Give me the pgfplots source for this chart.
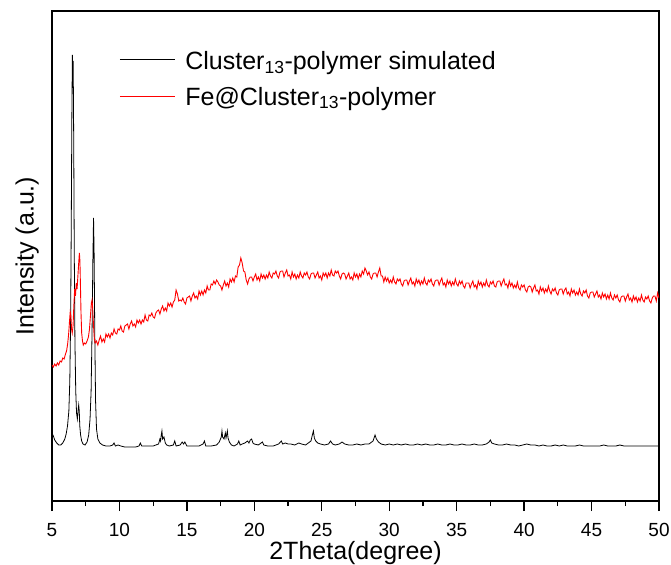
\documentclass[border=0pt]{standalone}
\usepackage{pgfplots}
\pgfplotsset{compat=1.18}
\usepackage{fontspec}
\setmainfont{Liberation Sans}
\begin{document}
\begin{tikzpicture}
\begin{axis}[
  name=ax,
  scale only axis,
  width=607pt, height=490pt,
  xmin=5, xmax=50, ymin=0, ymax=490,
  xtick={5,10,...,50},
  minor x tick num=1,
  ytick=\empty,
  xtick pos=bottom,
  tick align=outside,
  major tick length=10pt,
  minor tick length=5pt,
  every tick/.style={black, line width=1.3pt},
  axis line style={line width=1.6pt},
  /pgf/number format/assume math mode=true,
  xticklabel style={font=\fontsize{19}{22}\selectfont, inner sep=0pt, anchor=north, yshift=-12.5pt},
  xlabel={2Theta(degree)},
  ylabel={Intensity (a.u.)},
  xlabel style={font=\fontsize{25}{29}\selectfont, at={(axis description cs:0.5,-0.0826)}, anchor=north, inner sep=0pt},
  ylabel style={font=\fontsize{25}{29}\selectfont, at={(axis description cs:-0.0214,0.5)}, anchor=south, inner sep=0pt},
  legend style={draw=none, fill=none, at={(axis description cs:0.1133,0.922)}, anchor=north west,
    font=\fontsize{25}{29}\selectfont, row sep=12pt, inner sep=0pt},
  legend cell align=left,
]
\addlegendimage{legend image code/.code={\path (0pt,0pt) (62pt,0pt);}}
\addlegendentry{Cluster\textsubscript{13}-polymer simulated}
\addlegendimage{legend image code/.code={\path (0pt,0pt) (62pt,0pt);}}
\addlegendentry{Fe@Cluster\textsubscript{13}-polymer}
\addplot[forget plot, color=black, line width=0.8pt] coordinates {
(5.0,68) (5.1,65) (5.2,61) (5.35,58) (5.5,56) (5.65,56) (5.8,58) (5.95,62) (6.05,67) (6.15,75)
(6.25,90) (6.32,120) (6.38,180) (6.43,280) (6.47,380) (6.51,446) (6.54,420) (6.57,440) (6.61,360)
(6.65,250) (6.7,160) (6.76,110) (6.82,88) (6.88,82) (6.93,90) (6.98,96) (7.02,90) (7.06,75) (7.12,66)
(7.2,60) (7.3,57) (7.45,56) (7.6,59) (7.72,66) (7.82,82) (7.9,110) (7.97,170) (8.03,240) (8.08,283)
(8.12,250) (8.17,170) (8.23,100) (8.3,72) (8.4,62) (8.55,58) (8.75,56) (9.0,55) (9.3,55) (9.5,56)
(9.6,58) (9.7,55) (9.9,56) (10.1,55) (10.4,54) (10.8,54) (11.2,54) (11.45,55) (11.55,58) (11.65,55)
(12.0,55) (12.5,55) (12.9,57) (13.0,62) (13.05,60) (13.1,66) (13.15,70) (13.2,62) (13.3,64) (13.4,58)
(13.5,56) (13.7,55) (14.0,56) (14.1,60) (14.2,55) (14.5,56) (14.65,59) (14.75,57) (14.85,59) (15.0,55)
(15.3,55) (15.6,55) (15.9,55) (16.2,57) (16.3,60) (16.4,55) (16.8,55) (17.2,56) (17.4,59) (17.55,64)
(17.6,70) (17.65,64) (17.75,62) (17.85,68) (17.9,63) (18.0,70) (18.05,63) (18.15,59) (18.3,56) (18.5,55)
(18.75,57) (18.85,60) (18.95,56) (19.1,57) (19.3,58) (19.5,60) (19.6,58) (19.7,61) (19.8,62) (19.9,58)
(20.0,57) (20.3,56) (20.6,59) (20.7,56) (21.0,55) (21.4,55) (21.8,57) (22.0,60) (22.1,57) (22.3,58)
(22.5,57) (22.7,57) (23.0,56) (23.3,58) (23.5,57) (23.8,56) (24.0,58) (24.2,60) (24.3,66) (24.38,70)
(24.45,63) (24.55,60) (24.7,58) (24.9,57) (25.2,56) (25.5,57) (25.65,60) (25.8,57) (26.0,56) (26.3,57)
(26.5,59) (26.7,57) (27.0,56) (27.3,56) (27.6,57) (27.9,56) (28.2,57) (28.5,57) (28.8,60) (28.95,66)
(29.05,62) (29.2,59) (29.4,57) (29.7,56) (30.0,57) (30.3,56) (30.6,57) (30.9,56) (31.2,57) (31.5,56)
(31.8,56) (32.1,57) (32.4,56) (32.7,57) (33.0,56) (33.3,56) (33.6,57) (33.9,56) (34.2,56) (34.5,57)
(34.8,56) (35.1,56) (35.4,57) (35.7,56) (36.0,56) (36.3,57) (36.6,56) (36.9,56) (37.2,57) (37.4,59)
(37.5,61) (37.6,58) (37.8,57) (38.1,56) (38.4,56) (38.7,57) (39.0,56) (39.3,56) (39.6,55) (39.9,56)
(40.2,57) (40.5,56) (40.8,56) (41.1,55) (41.4,56) (41.7,55) (42.0,55) (42.3,56) (42.6,55) (42.9,56)
(43.2,55) (43.5,55) (43.8,55) (44.1,56) (44.4,55) (44.7,55) (45.0,55) (45.3,55) (45.6,55) (45.9,56)
(46.2,55) (46.5,55) (46.8,55) (47.1,56) (47.4,55) (47.7,55) (48.0,55) (48.3,55) (48.6,55) (48.9,55)
(49.2,55) (49.5,55) (49.8,55) (50.0,55)
};
\addplot[forget plot, color=red, line width=0.9pt] coordinates {
(5.0,136) (5.1,134) (5.2,137) (5.3,135) (5.4,138) (5.5,136) (5.6,140) (5.7,139) (5.8,143) (5.9,142)
(6.0,147) (6.08,150) (6.16,157) (6.24,168) (6.3,180) (6.35,189) (6.4,185) (6.45,172) (6.5,168) (6.56,175)
(6.62,195) (6.68,212) (6.74,205) (6.8,218) (6.86,212) (6.92,225) (6.98,238) (7.03,248) (7.07,240) (7.11,215)
(7.15,188) (7.2,168) (7.26,160) (7.32,156) (7.4,158) (7.5,157) (7.6,160) (7.7,164) (7.78,172) (7.85,185)
(7.92,198) (7.97,201) (8.02,192) (8.08,175) (8.14,162) (8.2,158)
(8.3,160) (8.4,156) (8.5,161) (8.6,165) (8.7,159) (8.8,162) (8.9,159) (9.0,167) (9.1,164) (9.2,167)
(9.3,163) (9.4,168) (9.5,166) (9.6,172) (9.7,168) (9.8,167) (9.9,172) (10.0,171) (10.1,175) (10.2,170)
(10.3,169) (10.4,175) (10.5,176) (10.6,177) (10.7,172) (10.8,177) (10.9,180) (11.0,175) (11.1,177) (11.2,174)
(11.3,181) (11.4,178) (11.5,181) (11.6,177) (11.7,181) (11.8,179) (11.9,186) (12.0,181) (12.1,180) (12.2,186)
(12.3,185) (12.4,188) (12.5,184) (12.6,183) (12.7,188) (12.8,190) (12.9,191) (13.0,187) (13.1,192) (13.2,195)
(13.3,190) (13.4,193) (13.5,190) (13.6,198) (13.7,195) (13.8,198) (13.9,194) (14.0,199) (14.1,201) (14.2,211)
(14.3,207) (14.4,200) (14.5,201) (14.6,200) (14.7,203) (14.8,199) (14.9,197) (15.0,203) (15.1,204) (15.2,205)
(15.3,200) (15.4,205) (15.5,208) (15.6,203) (15.7,205) (15.8,202) (15.9,210) (16.0,206) (16.1,210) (16.2,206)
(16.3,211) (16.4,208) (16.5,215) (16.6,211) (16.7,211) (16.8,217) (16.9,216) (17.0,220) (17.1,217) (17.2,221)
(17.3,219) (17.4,216) (17.5,215) (17.6,211) (17.7,216) (17.8,220) (17.9,215) (18.0,218) (18.1,214) (18.2,222)
(18.3,219) (18.4,223) (18.5,219) (18.6,225) (18.7,224) (18.8,234) (18.9,236) (19.0,243) (19.1,238) (19.2,230)
(19.3,229) (19.4,221) (19.5,217) (19.6,222) (19.7,224) (19.8,224) (19.9,220) (20.0,224) (20.1,227) (20.2,221)
(20.3,224) (20.4,220) (20.5,227) (20.6,223) (20.7,226) (20.8,222) (20.9,226) (21.0,223) (21.1,229) (21.2,225)
(21.3,223) (21.4,228) (21.5,227) (21.6,230) (21.7,225) (21.8,223) (21.9,229) (22.0,230) (22.1,230) (22.2,224)
(22.3,228) (22.4,231) (22.5,225) (22.6,226) (22.7,222) (22.8,229) (22.9,224) (23.0,227) (23.1,222) (23.2,226)
(23.3,223) (23.4,229) (23.5,225) (23.6,223) (23.7,228) (23.8,226) (23.9,229) (24.0,224) (24.1,222) (24.2,227)
(24.3,228) (24.4,228) (24.5,223) (24.6,226) (24.7,229) (24.8,223) (24.9,225) (25.0,221) (25.1,228) (25.2,225)
(25.3,228) (25.4,223) (25.5,228) (25.6,225) (25.7,231) (25.8,226) (25.9,225) (26.0,230) (26.1,228) (26.2,230)
(26.3,225) (26.4,222) (26.5,227) (26.6,228) (26.7,227) (26.8,222) (26.9,225) (27.0,228) (27.1,222) (27.2,224)
(27.3,221) (27.4,228) (27.5,224) (27.6,227) (27.7,222) (27.8,227) (27.9,224) (28.0,230) (28.1,227) (28.2,233)
(28.3,230) (28.4,226) (28.5,229) (28.6,224) (28.7,222) (28.8,227) (28.9,228) (29.0,228) (29.1,224) (29.2,229)
(29.3,233) (29.4,225) (29.5,225) (29.6,219) (29.7,224) (29.8,220) (29.9,223) (30.0,218) (30.1,221) (30.2,218)
(30.3,224) (30.4,219) (30.5,217) (30.6,222) (30.7,220) (30.8,222) (30.9,217) (31.0,215) (31.1,220) (31.2,221)
(31.3,221) (31.4,216) (31.5,220) (31.6,223) (31.7,217) (31.8,219) (31.9,215) (32.0,222) (32.1,218) (32.2,221)
(32.3,216) (32.4,220) (32.5,217) (32.6,223) (32.7,218) (32.8,216) (32.9,221) (33.0,219) (33.1,222) (33.2,217)
(33.3,215) (33.4,220) (33.5,221) (33.6,221) (33.7,216) (33.8,220) (33.9,223) (34.0,216) (34.1,218) (34.2,214)
(34.3,221) (34.4,217) (34.5,220) (34.6,215) (34.7,219) (34.8,216) (34.9,222) (35.0,217) (35.1,215) (35.2,220)
(35.3,217) (35.4,220) (35.5,215) (35.6,213) (35.7,218) (35.8,218) (35.9,218) (36.0,213) (36.1,217) (36.2,220)
(36.3,214) (36.4,216) (36.5,212) (36.6,220) (36.7,216) (36.8,219) (36.9,214) (37.0,218) (37.1,215) (37.2,221)
(37.3,216) (37.4,214) (37.5,219) (37.6,217) (37.7,220) (37.8,215) (37.9,214) (38.0,219) (38.1,220) (38.2,220)
(38.3,215) (38.4,219) (38.5,222) (38.6,216) (38.7,217) (38.8,213) (38.9,220) (39.0,215) (39.1,218) (39.2,213)
(39.3,216) (39.4,213) (39.5,219) (39.6,213) (39.7,211) (39.8,216) (39.9,214) (40.0,216) (40.1,211) (40.2,209)
(40.3,214) (40.4,215) (40.5,214) (40.6,209) (40.7,213) (40.8,216) (40.9,210) (41.0,211) (41.1,207) (41.2,214)
(41.3,210) (41.4,213) (41.5,208) (41.6,212) (41.7,209) (41.8,215) (41.9,210) (42.0,207) (42.1,212) (42.2,210)
(42.3,213) (42.4,208) (42.5,206) (42.6,211) (42.7,212) (42.8,212) (42.9,207) (43.0,211) (43.1,213) (43.2,207)
(43.3,209) (43.4,205) (43.5,212) (43.6,208) (43.7,211) (43.8,206) (43.9,209) (44.0,206) (44.1,212) (44.2,207)
(44.3,205) (44.4,210) (44.5,208) (44.6,211) (44.7,205) (44.8,203) (44.9,208) (45.0,209) (45.1,209) (45.2,204)
(45.3,207) (45.4,210) (45.5,204) (45.6,206) (45.7,202) (45.8,208) (45.9,204) (46.0,207) (46.1,202) (46.2,206)
(46.3,202) (46.4,208) (46.5,203) (46.6,201) (46.7,206) (46.8,203) (46.9,206) (47.0,201) (47.1,199) (47.2,204)
(47.3,205) (47.4,205) (47.5,200) (47.6,204) (47.7,207) (47.8,201) (47.9,203) (48.0,199) (48.1,205) (48.2,201)
(48.3,204) (48.4,199) (48.5,203) (48.6,200) (48.7,206) (48.8,201) (48.9,199) (49.0,204) (49.1,202) (49.2,205)
(49.3,200) (49.4,198) (49.5,203) (49.6,205) (49.7,205) (49.8,200) (49.9,208) (50.0,203)
};
\draw[black, line width=0.8pt] (axis description cs:0.112,0.901) -- ++(55pt,0pt);
\draw[red, line width=1pt] (axis description cs:0.112,0.8255) -- ++(55pt,0pt);
\end{axis}
\pgfresetboundingbox
\path ([xshift=-52pt,yshift=-63.5pt]ax.south west) rectangle ([xshift=12pt,yshift=11pt]ax.north east);
\end{tikzpicture}
\end{document}
